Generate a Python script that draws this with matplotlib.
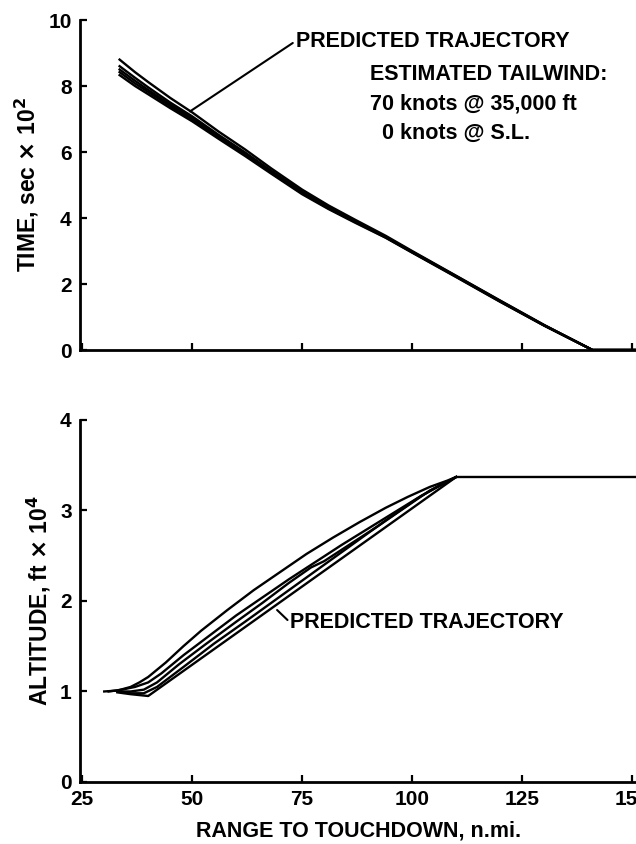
import matplotlib
matplotlib.use("Agg")
import matplotlib.pyplot as plt

plt.rcParams['font.family'] = ['Liberation Sans', 'DejaVu Sans']
plt.rcParams['font.weight'] = 'bold'
plt.rcParams['axes.labelweight'] = 'bold'
plt.rcParams['mathtext.default'] = 'bf'

# ---- time vs range (top panel) ----
range_top = [33.5, 37, 40, 45, 50, 56, 62, 68, 75, 81, 87, 94, 100, 110, 120, 130, 141, 151]
time_predicted = [8.8, 8.42, 8.12, 7.64, 7.2, 6.62, 6.08, 5.5, 4.86, 4.38, 3.95, 3.46, 3.0, 2.25, 1.5, 0.76, 0, 0]
time_runs = [
    [8.6, 8.25, 7.96, 7.5, 7.08, 6.52, 5.99, 5.43, 4.8, 4.33, 3.91, 3.43, 2.98, 2.24, 1.49, 0.75, 0, 0],
    [8.5, 8.16, 7.88, 7.44, 7.03, 6.48, 5.95, 5.4, 4.78, 4.31, 3.9, 3.42, 2.97, 2.23, 1.48, 0.75, 0, 0],
    [8.42, 8.08, 7.82, 7.39, 6.98, 6.44, 5.92, 5.37, 4.75, 4.29, 3.88, 3.41, 2.96, 2.22, 1.47, 0.74, 0, 0],
    [8.33, 8.0, 7.75, 7.33, 6.93, 6.4, 5.88, 5.34, 4.72, 4.27, 3.86, 3.4, 2.95, 2.21, 1.46, 0.74, 0, 0],
]

# ---- altitude vs range (bottom panel) ----
range_pred_alt = [33, 36, 40, 110, 151]
alt_predicted = [0.99, 0.97, 0.95, 3.37, 3.37]
range_alt_runs = [
    [30, 33, 36, 38, 40, 44, 48, 52, 58, 64, 70, 76, 82, 88, 94, 99, 104, 108, 110],
    [31, 34, 37, 40, 43, 48, 54, 60, 66, 72, 78, 84, 90, 96, 101, 106, 110],
    [33, 36, 39, 42, 47, 53, 60, 66, 72, 77, 80, 86, 92, 98, 104, 110],
    [33, 36, 39, 42, 48, 55, 62, 70, 78, 86, 94, 102, 110],
]
alt_runs = [
    [1.0, 1.01, 1.05, 1.1, 1.16, 1.32, 1.5, 1.67, 1.9, 2.12, 2.32, 2.52, 2.7, 2.87, 3.03, 3.15, 3.26, 3.33, 3.37],
    [1.0, 1.02, 1.05, 1.1, 1.2, 1.4, 1.62, 1.84, 2.04, 2.24, 2.43, 2.62, 2.8, 2.98, 3.13, 3.27, 3.37],
    [1.0, 1.0, 1.02, 1.1, 1.3, 1.52, 1.77, 1.98, 2.2, 2.37, 2.44, 2.63, 2.82, 3.02, 3.22, 3.37],
    [1.0, 0.98, 0.98, 1.05, 1.27, 1.53, 1.77, 2.05, 2.33, 2.61, 2.89, 3.16, 3.37],
]

x_ticks = [25, 50, 75, 100, 125, 150]
time_ticks = [0, 2, 4, 6, 8, 10]
alt_ticks = [0, 1, 2, 3, 4]

fig = plt.figure(figsize=(6.36, 8.44), dpi=100)
ax1 = fig.add_axes([0.1258, 0.5853, 0.875, 0.391])
ax2 = fig.add_axes([0.1258, 0.0735, 0.875, 0.4289])


def style(ax):
    for s in ['top', 'right']:
        ax.spines[s].set_visible(False)
    for s in ['left', 'bottom']:
        ax.spines[s].set_linewidth(2.0)
    ax.tick_params(direction='in', length=5, width=1.6, labelsize=15, pad=6)
    ax.set_xlim(24.5, 151)
    ax.set_xticks(x_ticks)


style(ax1)
style(ax2)

# top panel
for run in time_runs:
    ax1.plot(range_top, run, color='black', lw=1.7)
ax1.plot(range_top, time_predicted, color='black', lw=1.7)
ax1.set_ylim(0, 10)
ax1.set_yticks(time_ticks)
ax1.tick_params(axis='x', labelbottom=False)
ax1.set_ylabel('TIME, sec $\\times$ 10$^2$', fontsize=16.5, labelpad=5)
ax1.annotate('PREDICTED TRAJECTORY', xy=(49.5, 7.23), xytext=(73.5, 9.36),
             fontsize=15.5, va='center', ha='left',
             arrowprops=dict(arrowstyle='-', color='black', lw=1.5, shrinkA=0, shrinkB=0,
                             relpos=(0, 0.5)))
ax1.text(90.5, 8.35, 'ESTIMATED TAILWIND:', fontsize=15.5, va='center')
ax1.text(90.5, 7.45, '70 knots @ 35,000 ft', fontsize=15.5, va='center')
ax1.text(90.5, 6.55, '  0 knots @ S.L.', fontsize=15.5, va='center')

# bottom panel
for xs, ys in zip(range_alt_runs, alt_runs):
    ax2.plot(xs, ys, color='black', lw=1.7)
ax2.plot(range_pred_alt, alt_predicted, color='black', lw=1.7)
ax2.set_ylim(0, 4)
ax2.set_yticks(alt_ticks)
ax2.set_ylabel('ALTITUDE, ft $\\times$ 10$^4$', fontsize=16.5, labelpad=5)
ax2.set_xlabel('RANGE TO TOUCHDOWN, n.mi.', fontsize=15.5, labelpad=8)
ax2.annotate('PREDICTED TRAJECTORY', xy=(69.3, 1.9), xytext=(72.3, 1.76),
             fontsize=15.5, va='center', ha='left',
             arrowprops=dict(arrowstyle='-', color='black', lw=1.5, shrinkA=0, shrinkB=0,
                             relpos=(0, 0.5)))

fig.savefig('out.png', dpi=100)
